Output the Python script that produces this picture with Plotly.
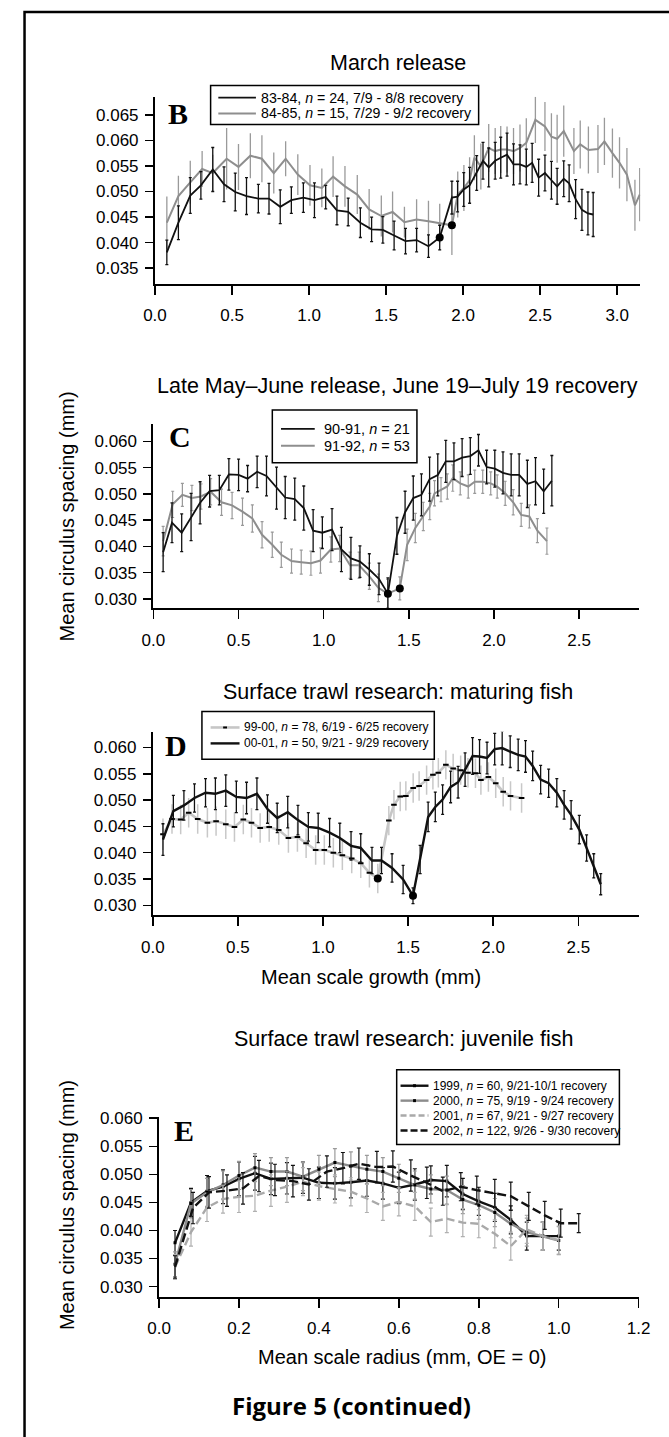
import plotly.graph_objects as go

W, H = 669, 1437

# ---------------- Panel B: March release ----------------
b_8384_x = [0.077, 0.152, 0.229, 0.298, 0.375, 0.448, 0.521, 0.594, 0.671, 0.740,
            0.813, 0.885, 0.963, 1.035, 1.108, 1.181, 1.254, 1.333, 1.406, 1.479,
            1.552, 1.626, 1.698, 1.775, 1.848,
            1.927, 1.964, 2.004, 2.042, 2.088, 2.129, 2.166, 2.208, 2.244, 2.285,
            2.327, 2.369, 2.410, 2.448, 2.490, 2.531, 2.573, 2.610, 2.653, 2.688,
            2.730, 2.771, 2.810, 2.844]
b_8384_y = [0.0381, 0.0439, 0.0492, 0.0512, 0.0543, 0.0514, 0.0499, 0.0491, 0.0486, 0.0486,
            0.0470, 0.0483, 0.0488, 0.0483, 0.0489, 0.0463, 0.0460, 0.0439, 0.0426, 0.0425,
            0.0414, 0.0403, 0.0405, 0.0393, 0.0410,
            0.0488, 0.0490, 0.0504, 0.0512, 0.0536, 0.0560, 0.0547, 0.0560, 0.0566, 0.0572,
            0.0553, 0.0553, 0.0548, 0.0556, 0.0527, 0.0536, 0.0522, 0.0510, 0.0525, 0.0516,
            0.0485, 0.0464, 0.0457, 0.0455]
b_8384_err = [0.0024, 0.0033, 0.0035, 0.0027, 0.0043, 0.0034, 0.0037, 0.0036, 0.0028, 0.0030,
              0.0033, 0.0026, 0.0029, 0.0034, 0.0023, 0.0028, 0.0027, 0.0029, 0.0024, 0.0026,
              0.0028, 0.0025, 0.0023, 0.0022, 0.0024,
              0.0032, 0.0030, 0.0033, 0.0035, 0.0034, 0.0036, 0.0038, 0.0036, 0.0040, 0.0042,
              0.0040, 0.0038, 0.0035, 0.0038, 0.0036, 0.0035, 0.0037, 0.0035, 0.0035, 0.0036,
              0.0038, 0.0040, 0.0042, 0.0043]
b_8384_annulus = 24

b_8485_x = [0.077, 0.152, 0.229, 0.306, 0.375, 0.465, 0.542, 0.619, 0.694, 0.771,
            0.848, 0.927, 1.006, 1.083, 1.156, 1.233, 1.313, 1.390, 1.469, 1.542,
            1.619, 1.698, 1.775, 1.848, 1.927,
            1.965, 2.005, 2.042, 2.073, 2.115, 2.166, 2.208, 2.244, 2.285, 2.327,
            2.369, 2.410, 2.469, 2.531, 2.573, 2.610, 2.653, 2.719, 2.760, 2.813,
            2.875, 2.917, 2.969, 3.015, 3.063, 3.115, 3.146]
b_8485_y = [0.0439, 0.0491, 0.0518, 0.0544, 0.0536, 0.0564, 0.0548, 0.0570, 0.0564, 0.0536,
            0.0564, 0.0533, 0.0512, 0.0507, 0.0529, 0.0510, 0.0494, 0.0465, 0.0452, 0.0460,
            0.0440, 0.0445, 0.0442, 0.0438, 0.0434,
            0.0494, 0.0507, 0.0522, 0.0566, 0.0549, 0.0585, 0.0579, 0.0582, 0.0582, 0.0579,
            0.0585, 0.0595, 0.0640, 0.0627, 0.0607, 0.0603, 0.0618, 0.0579, 0.0592, 0.0581,
            0.0583, 0.0598, 0.0575, 0.0556, 0.0533, 0.0473, 0.0494]
b_8485_err = [0.0051, 0.0040, 0.0042, 0.0035, 0.0036, 0.0060, 0.0045, 0.0044, 0.0046, 0.0040,
              0.0034, 0.0040, 0.0040, 0.0038, 0.0040, 0.0040, 0.0038, 0.0040, 0.0040, 0.0040,
              0.0030, 0.0040, 0.0040, 0.0038, 0.0058,
              0.0045, 0.0045, 0.0045, 0.0044, 0.0045, 0.0047, 0.0045, 0.0046, 0.0045, 0.0045,
              0.0046, 0.0048, 0.0045, 0.0048, 0.0046, 0.0047, 0.0050, 0.0045, 0.0047, 0.0046,
              0.0047, 0.0046, 0.0048, 0.0050, 0.0052, 0.0050, 0.0052]
b_8485_annulus = 24

# ---------------- Panel C: Late May-June release ----------------
c_9091_x = [0.057, 0.109, 0.166, 0.221, 0.274, 0.330, 0.387, 0.443, 0.500, 0.553,
            0.609, 0.664, 0.723, 0.774, 0.830, 0.883, 0.938, 0.992, 1.049, 1.104,
            1.160, 1.213, 1.268, 1.325, 1.377,
            1.430, 1.478, 1.526, 1.574, 1.622, 1.670, 1.717, 1.765, 1.813, 1.861,
            1.909, 1.957, 2.005, 2.053, 2.101, 2.148, 2.196, 2.244, 2.292, 2.340]
c_9091_y = [0.0389, 0.0445, 0.0426, 0.0456, 0.0483, 0.0505, 0.0507, 0.0537, 0.0536, 0.0529,
            0.0542, 0.0534, 0.0511, 0.0493, 0.0490, 0.0473, 0.0430, 0.0426, 0.0432, 0.0394,
            0.0377, 0.0371, 0.0356, 0.0338, 0.0310,
            0.0420, 0.0465, 0.0492, 0.0498, 0.0528, 0.0536, 0.0562, 0.0562, 0.0569, 0.0572,
            0.0583, 0.0551, 0.0548, 0.0540, 0.0536, 0.0536, 0.0519, 0.0524, 0.0505, 0.0525]
c_9091_err = [0.0037, 0.0038, 0.0036, 0.0045, 0.0040, 0.0030, 0.0028, 0.0030, 0.0030, 0.0025,
              0.0030, 0.0038, 0.0040, 0.0040, 0.0040, 0.0042, 0.0040, 0.0030, 0.0040, 0.0042,
              0.0040, 0.0030, 0.0030, 0.0030, 0.0030,
              0.0035, 0.0040, 0.0042, 0.0040, 0.0042, 0.0040, 0.0040, 0.0035, 0.0036, 0.0035,
              0.0030, 0.0032, 0.0035, 0.0040, 0.0040, 0.0040, 0.0045, 0.0045, 0.0042, 0.0048]
c_9091_annulus = 24

c_9192_x = [0.057, 0.113, 0.170, 0.226, 0.279, 0.336, 0.400, 0.462, 0.523, 0.581,
            0.638, 0.698, 0.751, 0.811, 0.868, 0.925, 0.981, 1.042, 1.094, 1.155,
            1.208, 1.268, 1.321, 1.376, 1.447,
            1.490, 1.538, 1.585, 1.623, 1.651, 1.689, 1.726, 1.758, 1.802, 1.849,
            1.887, 1.934, 1.981, 2.019, 2.066, 2.113, 2.160, 2.208, 2.255, 2.311]
c_9192_y = [0.0410, 0.0480, 0.0498, 0.0492, 0.0495, 0.0504, 0.0484, 0.0478, 0.0466, 0.0453,
            0.0422, 0.0403, 0.0384, 0.0372, 0.0370, 0.0368, 0.0373, 0.0394, 0.0396, 0.0364,
            0.0364, 0.0343, 0.0321, 0.0310, 0.0320,
            0.0403, 0.0435, 0.0457, 0.0476, 0.0501, 0.0508, 0.0514, 0.0530, 0.0520, 0.0514,
            0.0523, 0.0523, 0.0520, 0.0514, 0.0501, 0.0484, 0.0460, 0.0457, 0.0430, 0.0410]
c_9192_err = [0.0028, 0.0025, 0.0022, 0.0024, 0.0024, 0.0025, 0.0025, 0.0025, 0.0026, 0.0026,
              0.0025, 0.0024, 0.0024, 0.0023, 0.0023, 0.0023, 0.0024, 0.0024, 0.0025, 0.0025,
              0.0025, 0.0025, 0.0026, 0.0027, 0.0022,
              0.0030, 0.0028, 0.0027, 0.0025, 0.0024, 0.0023, 0.0024, 0.0025, 0.0022, 0.0022,
              0.0022, 0.0022, 0.0022, 0.0022, 0.0023, 0.0024, 0.0022, 0.0022, 0.0023, 0.0025]
c_9192_annulus = 24

# ---------------- Panel D: maturing fish ----------------
d_9900_x = [0.060, 0.113, 0.164, 0.211, 0.264, 0.321, 0.372, 0.429, 0.480, 0.532,
            0.580, 0.631, 0.684, 0.740, 0.797, 0.850, 0.901, 0.957, 1.008, 1.061,
            1.114, 1.169, 1.222, 1.273, 1.322,
            1.387, 1.417, 1.454, 1.487, 1.530, 1.565, 1.609, 1.646, 1.678, 1.722,
            1.765, 1.809, 1.852, 1.896, 1.928, 1.972, 2.015, 2.059, 2.102, 2.167]
d_9900_y = [0.0435, 0.0464, 0.0463, 0.0476, 0.0464, 0.0457, 0.0460, 0.0454, 0.0449, 0.0463,
            0.0457, 0.0447, 0.0449, 0.0443, 0.0428, 0.0430, 0.0418, 0.0405, 0.0405, 0.0400,
            0.0395, 0.0389, 0.0380, 0.0362, 0.0351,
            0.0461, 0.0491, 0.0507, 0.0508, 0.0523, 0.0527, 0.0538, 0.0548, 0.0552, 0.0567,
            0.0560, 0.0557, 0.0552, 0.0551, 0.0538, 0.0544, 0.0532, 0.0516, 0.0508, 0.0504]
d_9900_err = [0.0030, 0.0028, 0.0028, 0.0028, 0.0028, 0.0028, 0.0028, 0.0028, 0.0028, 0.0028,
              0.0028, 0.0028, 0.0028, 0.0028, 0.0028, 0.0028, 0.0028, 0.0028, 0.0028, 0.0028,
              0.0028, 0.0028, 0.0028, 0.0028, 0.0028,
              0.0028, 0.0028, 0.0028, 0.0028, 0.0028, 0.0028, 0.0028, 0.0028, 0.0028, 0.0028,
              0.0028, 0.0028, 0.0028, 0.0028, 0.0028, 0.0028, 0.0028, 0.0028, 0.0028, 0.0028]
d_9900_annulus = 24

d_0001_x = [0.060, 0.121, 0.183, 0.245, 0.310, 0.368, 0.429, 0.491, 0.551, 0.612,
            0.674, 0.731, 0.793, 0.853, 0.914, 0.972, 1.039, 1.099, 1.165, 1.222,
            1.288, 1.344, 1.406, 1.471, 1.529,
            1.571, 1.618, 1.660, 1.703, 1.750, 1.794, 1.835, 1.879, 1.920, 1.964,
            2.009, 2.053, 2.100, 2.147, 2.190, 2.232, 2.279, 2.326, 2.374, 2.417,
            2.458, 2.506, 2.549, 2.591, 2.632]
d_0001_y = [0.0425, 0.0479, 0.0490, 0.0504, 0.0514, 0.0512, 0.0518, 0.0506, 0.0504, 0.0512,
            0.0483, 0.0466, 0.0477, 0.0462, 0.0449, 0.0447, 0.0438, 0.0428, 0.0413, 0.0409,
            0.0385, 0.0385, 0.0371, 0.0349, 0.0318,
            0.0387, 0.0468, 0.0487, 0.0501, 0.0525, 0.0534, 0.0558, 0.0584, 0.0583, 0.0580,
            0.0597, 0.0599, 0.0592, 0.0586, 0.0583, 0.0565, 0.0539, 0.0532, 0.0514, 0.0491,
            0.0472, 0.0444, 0.0409, 0.0375, 0.0340]
d_0001_err = [0.0030, 0.0030, 0.0028, 0.0027, 0.0027, 0.0030, 0.0030, 0.0030, 0.0030, 0.0030,
              0.0027, 0.0028, 0.0030, 0.0028, 0.0027, 0.0028, 0.0027, 0.0028, 0.0027, 0.0027,
              0.0025, 0.0025, 0.0027, 0.0027, 0.0015,
              0.0027, 0.0028, 0.0028, 0.0028, 0.0030, 0.0030, 0.0032, 0.0035, 0.0032, 0.0030,
              0.0030, 0.0032, 0.0030, 0.0030, 0.0030, 0.0028, 0.0027, 0.0027, 0.0027, 0.0027,
              0.0027, 0.0027, 0.0025, 0.0023, 0.0020]
d_0001_annulus = 24

# ---------------- Panel E: juvenile fish ----------------
e_radius = [0.04, 0.08, 0.12, 0.16, 0.20, 0.24, 0.28, 0.32, 0.36, 0.40,
            0.44, 0.48, 0.52, 0.56, 0.60, 0.64, 0.68, 0.72, 0.76, 0.80,
            0.84, 0.88, 0.92, 0.96, 1.00]
e_1999_y = [0.0378, 0.0450, 0.0470, 0.0478, 0.0492, 0.0502, 0.0492, 0.0493, 0.0494, 0.0485,
            0.0484, 0.0486, 0.0489, 0.0484, 0.0476, 0.0482, 0.0490, 0.0488, 0.0465, 0.0452,
            0.0441, 0.0419, 0.0390, 0.0390, 0.0390]
e_1999_err = [0.0022, 0.0025, 0.0028, 0.0030, 0.0030, 0.0030, 0.0028, 0.0028, 0.0028, 0.0028,
              0.0028, 0.0028, 0.0028, 0.0028, 0.0028, 0.0028, 0.0025, 0.0028, 0.0028, 0.0025,
              0.0025, 0.0025, 0.0025, 0.0025, 0.0025]
e_2000_y = [0.0340, 0.0448, 0.0468, 0.0481, 0.0498, 0.0512, 0.0505, 0.0505, 0.0496, 0.0509,
            0.0521, 0.0515, 0.0509, 0.0505, 0.0493, 0.0481, 0.0474, 0.0472, 0.0455, 0.0445,
            0.0432, 0.0412, 0.0397, 0.0390, 0.0382]
e_2000_err = [0.0022, 0.0025, 0.0025, 0.0025, 0.0025, 0.0025, 0.0025, 0.0025, 0.0025, 0.0025,
              0.0025, 0.0025, 0.0025, 0.0025, 0.0025, 0.0025, 0.0025, 0.0025, 0.0025, 0.0025,
              0.0025, 0.0025, 0.0025, 0.0025, 0.0025]
e_2001_y = [0.0335, 0.0397, 0.0441, 0.0456, 0.0460, 0.0462, 0.0471, 0.0478, 0.0487, 0.0479,
            0.0474, 0.0469, 0.0457, 0.0443, 0.0451, 0.0443, 0.0415, 0.0421, 0.0414, 0.0412,
            0.0394, 0.0372, 0.0402, 0.0390, 0.0383]
e_2001_err = [0.0022, 0.0025, 0.0025, 0.0025, 0.0028, 0.0028, 0.0028, 0.0028, 0.0025, 0.0025,
              0.0025, 0.0025, 0.0025, 0.0025, 0.0025, 0.0025, 0.0025, 0.0025, 0.0025, 0.0025,
              0.0025, 0.0025, 0.0025, 0.0025, 0.0025]
e_2002_x = [0.040, 0.085, 0.125, 0.170, 0.210, 0.250, 0.290, 0.335, 0.375, 0.420,
            0.460, 0.500, 0.545, 0.585, 0.630, 0.670, 0.710, 0.755, 0.795, 0.840,
            0.880, 0.925, 0.965, 1.005, 1.050]
e_2002_y = [0.0335, 0.0440, 0.0468, 0.0471, 0.0475, 0.0497, 0.0490, 0.0488, 0.0482, 0.0505,
            0.0511, 0.0519, 0.0513, 0.0514, 0.0498, 0.0485, 0.0470, 0.0478, 0.0472, 0.0466,
            0.0461, 0.0443, 0.0427, 0.0413, 0.0413]
e_2002_err = [0.0020, 0.0028, 0.0028, 0.0028, 0.0028, 0.0028, 0.0028, 0.0028, 0.0028, 0.0028,
              0.0028, 0.0028, 0.0028, 0.0028, 0.0028, 0.0028, 0.0025, 0.0025, 0.0025, 0.0025,
              0.0025, 0.0025, 0.0025, 0.0025, 0.0017]

# ---------------- labels and ticks ----------------
names_B = ["83-84, <i>n</i> = 24, 7/9 - 8/8 recovery",
           "84-85, <i>n</i> = 15, 7/29 - 9/2 recovery"]
names_C = ["90-91, <i>n</i> = 21", "91-92, <i>n</i> = 53"]
names_D = ["99-00, <i>n</i> = 78, 6/19 - 6/25 recovery",
           "00-01, <i>n</i> = 50, 9/21 - 9/29 recovery"]
names_E = ["1999, <i>n</i> = 60, 9/21-10/1 recovery",
           "2000, <i>n</i> = 75, 9/19 - 9/24 recovery",
           "2001, <i>n</i> = 67, 9/21 - 9/27 recovery",
           "2002, <i>n</i> = 122, 9/26 - 9/30 recovery"]

y_ticks_B = [0.035, 0.040, 0.045, 0.050, 0.055, 0.060, 0.065]
y_ticks_CD = [0.030, 0.035, 0.040, 0.045, 0.050, 0.055, 0.060]
x_ticks_B = [0.0, 0.5, 1.0, 1.5, 2.0, 2.5, 3.0]
x_ticks_CD = [0.0, 0.5, 1.0, 1.5, 2.0, 2.5]
x_ticks_E = [0.0, 0.2, 0.4, 0.6, 0.8, 1.0, 1.2]


# ---------------- helpers ----------------
def xp(p):
    return p / W


def yp(p):
    return 1 - p / H


FONT = "Liberation Sans, Arial, Helvetica, sans-serif"
SERIF = "Liberation Serif, Times New Roman, serif"
BLACK = "#111111"
GRAY = "#8e8e8e"
LIGHT = "#c6c6c6"
EGRAY = "#8c8c8c"
ELIGHT = "#a9a9a9"

fig = go.Figure()


def series(xa, ya, ea, name, ax, color, width, dash="solid", ecolor=None,
           cap=2, ethick=1.3, mode="lines", marker=None):
    fig.add_trace(go.Scatter(
        x=xa, y=ya, mode=mode, name=name, showlegend=False,
        line=dict(color=color, width=width, dash=dash),
        marker=marker if marker else dict(size=1),
        error_y=dict(type="data", array=ea, visible=True,
                     color=ecolor if ecolor else color, thickness=ethick, width=cap),
        xaxis="x" + ax, yaxis="y" + ax, hoverinfo="skip"))


def dots(xs, ys, ax):
    fig.add_trace(go.Scatter(x=xs, y=ys, mode="markers", showlegend=False,
                             marker=dict(color="black", size=8),
                             xaxis="x" + ax, yaxis="y" + ax, hoverinfo="skip"))


# Panel B
series(b_8485_x, b_8485_y, b_8485_err, names_B[1], "", GRAY, 2.0,
       ecolor="#9a9a9a", cap=0, ethick=1.3)
series(b_8384_x, b_8384_y, b_8384_err, names_B[0], "", BLACK, 1.8, cap=1.5, ethick=1.3)
dots([b_8384_x[b_8384_annulus], b_8485_x[b_8485_annulus]],
     [b_8384_y[b_8384_annulus], b_8485_y[b_8485_annulus]], "")

# Panel C
series(c_9192_x, c_9192_y, c_9192_err, names_C[1], "2", GRAY, 2.0,
       ecolor="#9a9a9a", cap=1.5, ethick=1.2)
series(c_9091_x, c_9091_y, c_9091_err, names_C[0], "2", BLACK, 1.8, cap=1.5, ethick=1.3)
dots([c_9091_x[c_9091_annulus], c_9192_x[c_9192_annulus]],
     [c_9091_y[c_9091_annulus], c_9192_y[c_9192_annulus]], "2")

# Panel D
series(d_9900_x, d_9900_y, d_9900_err, names_D[0], "3", LIGHT, 2.6,
       ecolor="#c8c8c8", cap=0, ethick=1.5, mode="lines+markers",
       marker=dict(symbol="line-ew", size=4, color="black",
                   line=dict(color="black", width=2)))
series(d_0001_x, d_0001_y, d_0001_err, names_D[1], "3", BLACK, 2.4, cap=1.5, ethick=1.3)
dots([d_9900_x[d_9900_annulus], d_0001_x[d_0001_annulus]],
     [d_9900_y[d_9900_annulus], d_0001_y[d_0001_annulus]], "3")

# Panel E
series(e_radius, e_1999_y, e_1999_err, names_E[0], "4", BLACK, 2.4, cap=2, ethick=1.2,
       mode="lines+markers", marker=dict(symbol="square", size=3, color="black"))
series(e_radius, e_2000_y, e_2000_err, names_E[1], "4", EGRAY, 2.4, ecolor="#9a9a9a",
       cap=2, ethick=1.2, mode="lines+markers",
       marker=dict(symbol="square", size=3, color="black"))
series(e_radius, e_2001_y, e_2001_err, names_E[2], "4", ELIGHT, 2.4, dash="8px,4px",
       ecolor="#b0b0b0", cap=2, ethick=1.2)
series(e_2002_x, e_2002_y, e_2002_err, names_E[3], "4", BLACK, 2.4, dash="9px,4px",
       cap=2, ethick=1.2)

# ---------------- axes ----------------
TICKFONT = dict(family=FONT, size=17, color="black")


def xaxis(x0, x1, rng, ticks, anchor):
    return dict(domain=[xp(x0), xp(x1)], range=rng, tickvals=ticks, tickformat=".1f",
                showline=True, linewidth=2, linecolor="black", ticks="outside",
                ticklen=9, tickwidth=1.5, tickcolor="black", showgrid=False,
                zeroline=False, tickfont=TICKFONT, anchor=anchor, ticklabelstandoff=6)


def yaxis(y_top, y_bot, rng, ticks, anchor):
    return dict(domain=[yp(y_bot), yp(y_top)], range=rng, tickvals=ticks, tickformat=".3f",
                showline=True, linewidth=2, linecolor="black", ticks="outside",
                ticklen=8, tickwidth=1.5, tickcolor="black", showgrid=False,
                zeroline=False, tickfont=TICKFONT, anchor=anchor, ticklabelstandoff=3)


def ann(text, x, y, size, family=FONT, angle=0, xanchor="center"):
    return dict(text=text, x=xp(x), y=yp(y), xref="paper", yref="paper",
                showarrow=False, xanchor=xanchor, yanchor="middle",
                font=dict(family=family, size=size, color="black"), textangle=angle)


shapes = [dict(type="rect", xref="paper", yref="paper",
               x0=xp(13), x1=1.05, y0=-0.05, y1=yp(5),
               line=dict(color="black", width=2.5), layer="above")]
annotations = []


def legend(box, rows, sample, text_x, size):
    x0, y0, x1, y1 = box
    shapes.append(dict(type="rect", xref="paper", yref="paper",
                       x0=xp(x0), x1=xp(x1), y0=yp(y1), y1=yp(y0),
                       line=dict(color="black", width=1.5), fillcolor="white",
                       layer="above"))
    for (ry, label, color, width, dash, mark) in rows:
        shapes.append(dict(type="line", xref="paper", yref="paper",
                           x0=xp(sample[0]), x1=xp(sample[1]), y0=yp(ry), y1=yp(ry),
                           line=dict(color=color, width=width, dash=dash),
                           layer="above"))
        if mark:
            mx = (sample[0] + sample[1]) / 2
            mw, mh = mark
            shapes.append(dict(type="rect", xref="paper", yref="paper",
                               x0=xp(mx - mw / 2), x1=xp(mx + mw / 2),
                               y0=yp(ry + mh / 2), y1=yp(ry - mh / 2),
                               line=dict(width=0), fillcolor="black", layer="above"))
        annotations.append(ann(label, text_x, ry, size, xanchor="left"))


legend((206, 79, 484, 118),
       [(91, names_B[0], BLACK, 1.8, "solid", None),
        (107, names_B[1], GRAY, 2.0, "solid", None)],
       (214, 253), 256, 14.2)
legend((270, 405, 420, 458),
       [(424, names_C[0], BLACK, 1.8, "solid", None),
        (441, names_C[1], GRAY, 2.0, "solid", None)],
       (279, 314), 322, 14.5)
legend((197, 708, 438, 756),
       [(724, names_D[0], LIGHT, 2.6, "solid", (4, 2)),
        (740, names_D[1], BLACK, 2.4, "solid", None)],
       (206, 236), 239, 12)
legend((399, 1068, 630, 1143),
       [(1084, names_E[0], BLACK, 2.4, "solid", (3, 3)),
        (1099, names_E[1], EGRAY, 2.4, "solid", (3, 3)),
        (1114, names_E[2], ELIGHT, 2.4, "6px,3px", None),
        (1129, names_E[3], BLACK, 2.4, "7px,3px", None)],
       (403, 432), 435, 12)

annotations += [
    ann("March release", 400, 56, 21.5),
    ann("Late May\u2013June release, June 19\u2013July 19 recovery", 400, 381, 21.5),
    ann("Surface trawl research: maturing fish", 400, 688, 21.5),
    ann("Surface trawl research: juvenile fish", 406, 1037, 21.5),
    ann("<b>B</b>", 172, 107, 30, SERIF),
    ann("<b>C</b>", 174, 432, 30, SERIF),
    ann("<b>D</b>", 170, 742, 30, SERIF),
    ann("<b>E</b>", 178, 1129, 30, SERIF),
    ann("Mean circulus spacing (mm)", 57, 512, 20, angle=-90),
    ann("Mean circulus spacing (mm)", 57, 1204, 20, angle=-90),
    ann("Mean scale growth (mm)", 372, 975, 20),
    ann("Mean scale radius (mm, OE = 0)", 404, 1357, 20),
    ann("<b>Figure 5 (continued)</b>", 352, 1405, 24, "Open Sans, Noto Sans, sans-serif"),
]

fig.update_layout(
    width=W, height=H, autosize=False,
    margin=dict(l=0, r=0, t=0, b=0),
    paper_bgcolor="white", plot_bgcolor="white",
    font=dict(family=FONT, color="black"),
    showlegend=False,
    xaxis=xaxis(148.3, 651.7, [0, 3.15], x_ticks_B, "y"),
    yaxis=yaxis(90.3, 277.9, [0.0320, 0.0685], y_ticks_B, "x"),
    xaxis2=xaxis(146.7, 650, [0, 2.85], x_ticks_CD, "y2"),
    yaxis2=yaxis(419.3, 604.3, [0.0282, 0.06325], y_ticks_CD, "x2"),
    xaxis3=xaxis(146, 650, [0, 2.855], x_ticks_CD, "y3"),
    yaxis3=yaxis(728.3, 912.7, [0.0281, 0.0630], y_ticks_CD, "x3"),
    xaxis4=xaxis(152.5, 650, [0, 1.2], x_ticks_E, "y4"),
    yaxis4=yaxis(1115, 1296, [0.0282, 0.0603], y_ticks_CD, "x4"),
    annotations=annotations,
    shapes=shapes,
)

fig.write_html("out.html",
               config={"displayModeBar": False, "staticPlot": True},
               post_script="document.body.style.margin='0';"
                           "document.body.style.overflow='hidden';")
